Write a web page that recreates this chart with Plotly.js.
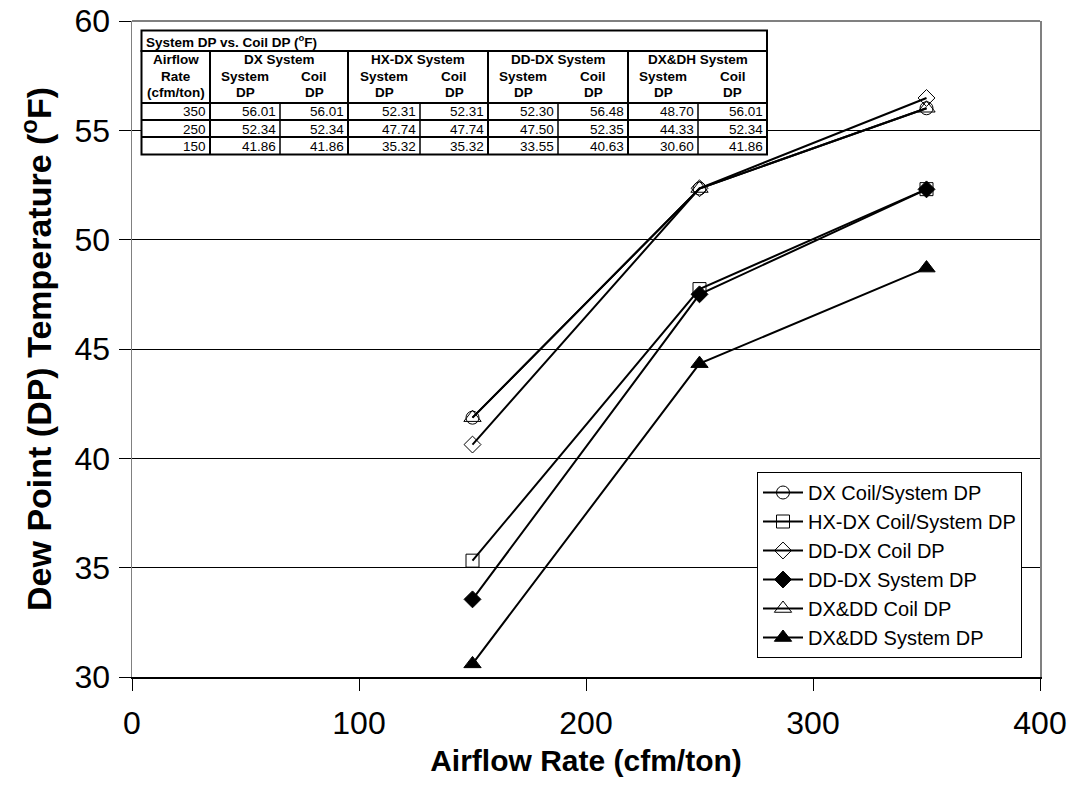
<!DOCTYPE html>
<html>
<head>
<meta charset="utf-8">
<script src="https://cdn.plot.ly/plotly-3.0.1.min.js"></script>
<style>
  html, body { margin: 0; padding: 0; background: #ffffff; }
  #chart { width: 1078px; height: 809px; }
</style>
</head>
<body>
<div id="chart"></div>
<script>
// Airflow rates (cfm/ton)
const airflowRates = [150, 250, 350];

// Dew point temperatures (°F) per system
const dxSystemDP = [41.86, 52.34, 56.01];
const dxCoilDP   = [41.86, 52.34, 56.01];
const hxSystemDP = [35.32, 47.74, 52.31];
const hxCoilDP   = [35.32, 47.74, 52.31];
const ddSystemDP = [33.55, 47.50, 52.30];
const ddCoilDP   = [40.63, 52.35, 56.48];
const dhSystemDP = [30.60, 44.33, 48.70];
const dhCoilDP   = [41.86, 52.34, 56.01];

const seriesNames = [
  'DX Coil/System DP',
  'HX-DX Coil/System DP',
  'DD-DX Coil DP',
  'DD-DX System DP',
  'DX&DD Coil DP',
  'DX&DD System DP'
];
const seriesValues = [dxCoilDP, hxCoilDP, ddCoilDP, ddSystemDP, dhCoilDP, dhSystemDP];
const seriesSymbols = ['circle-open', 'square-open', 'diamond-open', 'diamond', 'triangle-up-open', 'triangle-up'];

// Inset table text
const tableTitle = 'System DP vs. Coil DP (<sup>o</sup>F)';
const tableGroups = ['DX System', 'HX-DX System', 'DD-DX System', 'DX&DH System'];
const tableColumns = [dxSystemDP, dxCoilDP, hxSystemDP, hxCoilDP, ddSystemDP, ddCoilDP, dhSystemDP, dhCoilDP];

const FONT = 'Liberation Sans, Arial, sans-serif';

const traces = seriesNames.map((name, i) => ({
  type: 'scatter',
  mode: 'lines+markers',
  name: name,
  x: airflowRates,
  y: seriesValues[i],
  line: { color: '#000000', width: 2 },
  marker: {
    symbol: seriesSymbols[i],
    size: seriesSymbols[i].indexOf('triangle') === 0 ? 15 : 13,
    color: '#000000',
    line: { color: '#000000', width: 1 }
  }
}));

// Plot-area geometry (pixels) used to place the inset table
const W = 1078, H = 809;
const M = { l: 132, r: 38, t: 21, b: 132 };
const PW = W - M.l - M.r, PH = H - M.t - M.b;
const px = v => (v - M.l) / PW;
const py = v => (H - M.b - v) / PH;

const shapes = [];
const annotations = [];

function hLine(x0, x1, y, w) {
  shapes.push({ type: 'line', xref: 'paper', yref: 'paper',
    x0: px(x0), x1: px(x1), y0: py(y), y1: py(y), line: { color: '#000', width: w } });
}
function vLine(x, y0, y1, w) {
  shapes.push({ type: 'line', xref: 'paper', yref: 'paper',
    x0: px(x), x1: px(x), y0: py(y0), y1: py(y1), line: { color: '#000', width: w } });
}
function label(text, x, y, anchor, bold) {
  annotations.push({ xref: 'paper', yref: 'paper', x: px(x), y: py(y),
    xanchor: anchor, yanchor: 'middle', showarrow: false,
    text: bold ? '<b>' + text + '</b>' : text,
    font: { family: FONT, size: 13.5, color: '#000' } });
}

// Table grid
const colEdges = [141.5, 210, 280, 348, 420, 488, 558, 628, 698, 767];
const rowTop = 30.5, titleBottom = 51, headerBottom = 103;
const rowEdges = [103, 120, 137, 154.5];

// frame and title row
shapes.push({ type: 'rect', xref: 'paper', yref: 'paper',
  x0: px(colEdges[0]), x1: px(colEdges[9]), y0: py(rowTop), y1: py(titleBottom),
  line: { color: '#000', width: 2 }, fillcolor: '#ffffff' });
shapes.push({ type: 'rect', xref: 'paper', yref: 'paper',
  x0: px(colEdges[0]), x1: px(colEdges[9]), y0: py(titleBottom), y1: py(rowEdges[3]),
  line: { color: '#000', width: 2 }, fillcolor: '#ffffff' });
rowEdges.slice(0, 3).forEach(y => hLine(colEdges[0], colEdges[9], y, 2));
// group separators through the header
[1, 3, 5, 7].forEach(k => vLine(colEdges[k], titleBottom, rowEdges[3], 2));
// sub-column separators in the data rows
[2, 4, 6, 8].forEach(k => vLine(colEdges[k], headerBottom, rowEdges[3], 1.5));

label(tableTitle, colEdges[0] + 2, 41, 'left', true);
label('Airflow', (colEdges[0] + colEdges[1]) / 2, 59, 'center', true);
label('Rate', (colEdges[0] + colEdges[1]) / 2, 76, 'center', true);
label('(cfm/ton)', (colEdges[0] + colEdges[1]) / 2, 93, 'center', true);
tableGroups.forEach((g, i) => {
  const a = colEdges[1 + 2 * i], b = colEdges[2 + 2 * i], c = colEdges[3 + 2 * i];
  label(g, (a + c) / 2, 59, 'center', true);
  label('System', (a + b) / 2, 76, 'center', true);
  label('DP', (a + b) / 2, 93, 'center', true);
  label('Coil', (b + c) / 2, 76, 'center', true);
  label('DP', (b + c) / 2, 93, 'center', true);
});
// data rows, highest rate first
const rowOrder = [2, 1, 0];
rowOrder.forEach((idx, r) => {
  const yc = (rowEdges[r] + rowEdges[r + 1]) / 2 + 0.5;
  label(String(airflowRates[idx]), colEdges[1] - 2, yc, 'right', false);
  tableColumns.forEach((col, c) => {
    label(col[idx].toFixed(2), colEdges[c + 2] - 2, yc, 'right', false);
  });
});

// top border of the plot area
shapes.push({ type: 'line', xref: 'paper', yref: 'paper', x0: 0, x1: 1, y0: 1, y1: 1,
  line: { color: '#808080', width: 2 } });

const layout = {
  width: W,
  height: H,
  margin: M,
  paper_bgcolor: '#ffffff',
  plot_bgcolor: '#ffffff',
  font: { family: FONT, color: '#000000' },
  showlegend: true,
  legend: {
    x: px(757), y: py(472), xanchor: 'left', yanchor: 'top',
    bgcolor: '#ffffff', bordercolor: '#000000', borderwidth: 1,
    font: { family: FONT, size: 20, color: '#000' },
    itemwidth: 40, tracegroupgap: 0
  },
  xaxis: {
    range: [0, 400], dtick: 100, tick0: 0,
    showgrid: false, zeroline: false,
    showline: true, linecolor: '#000000', linewidth: 1.5,
    ticks: 'outside', ticklen: 12, tickcolor: '#000000', tickwidth: 1,
    ticklabelstandoff: 5,
    tickfont: { family: FONT, size: 32, color: '#000' },
    title: { text: '<b>Airflow Rate (cfm/ton)</b>', font: { family: FONT, size: 30, color: '#000' }, standoff: 10 }
  },
  yaxis: {
    range: [30, 60], dtick: 5, tick0: 30,
    showgrid: true, gridcolor: '#000000', gridwidth: 1,
    zeroline: false,
    showline: true, linecolor: '#808080', linewidth: 1.5, mirror: true,
    ticks: 'outside', ticklen: 12, tickcolor: '#000000', tickwidth: 1,
    ticklabelstandoff: 2,
    tickfont: { family: FONT, size: 32, color: '#000' },
    title: { text: '<b>Dew Point (DP) Temperature (<sup>o</sup>F)</b>', font: { family: FONT, size: 34, color: '#000' }, standoff: 12 }
  },
  shapes: shapes,
  annotations: annotations
};

Plotly.newPlot('chart', traces, layout, { displayModeBar: false, staticPlot: true });
</script>
</body>
</html>
